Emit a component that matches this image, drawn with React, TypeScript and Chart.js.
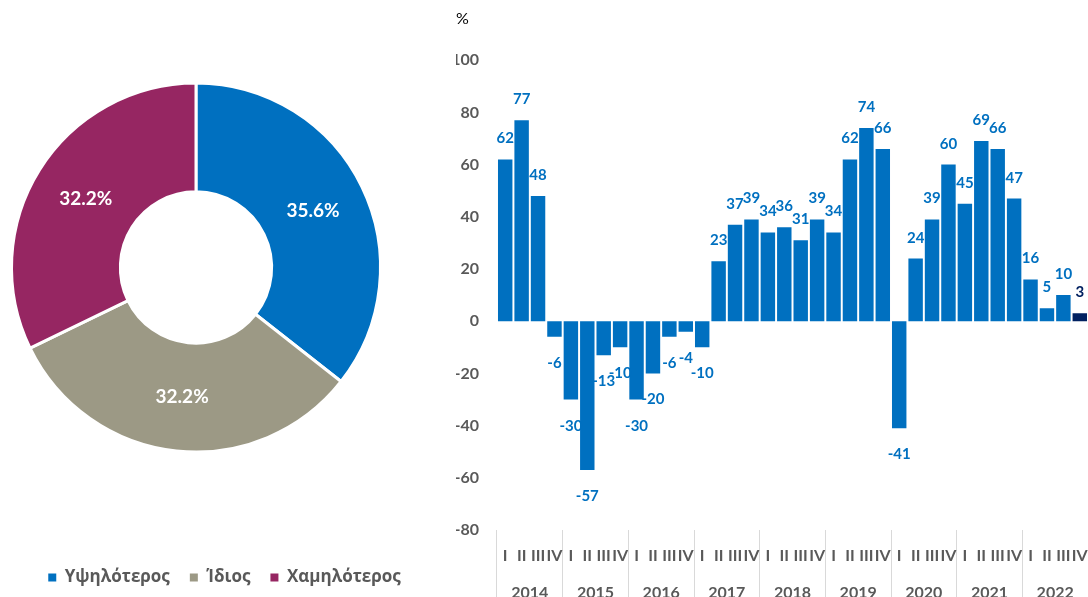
import React, { useEffect, useRef } from 'react';
import { Chart, registerables } from 'chart.js';

Chart.register(...registerables);

// ---- Donut data ----
const sliceLabels = ['Υψηλότερος', 'Ίδιος', 'Χαμηλότερος'];
const sliceValues = [35.6, 32.2, 32.2];
const sliceColors = ['#0070C0', '#9C9985', '#962662'];

// ---- Bar data ----
const years = ['2014', '2015', '2016', '2017', '2018', '2019', '2020', '2021', '2022'];
const quarters = ['I', 'II', 'III', 'IV'];
const balanceValues = [
  62, 77, 48, -6,
  -30, -57, -13, -10,
  -30, -20, -6, -4,
  -10, 23, 37, 39,
  34, 36, 31, 39,
  34, 62, 74, 66,
  -41, 24, 39, 60,
  45, 69, 66, 47,
  16, 5, 10, 3,
];
const yMin = -80;
const yMax = 100;
const yStep = 20;
const unitLabel = '%';

const BLUE = '#0070C0';
const NAVY = '#002060';
const GREY_TEXT = '#595959';
const SEP = '#D9D9D9';
const FONT = "Lato, 'Open Sans', 'Noto Sans', sans-serif";
const GREEK_FONT = "'Open Sans', 'Noto Sans', sans-serif";

const quarterLabels = years.flatMap(() => quarters);

const donutLabelPlugin = {
  id: 'donutLabels',
  afterDatasetsDraw(chart: any) {
    const ctx = chart.ctx;
    const meta = chart.getDatasetMeta(0);
    ctx.save();
    ctx.font = `bold 19px ${FONT}`;
    ctx.fillStyle = '#FFFFFF';
    ctx.textAlign = 'center';
    ctx.textBaseline = 'middle';
    meta.data.forEach((arc: any, i: number) => {
      const p = arc.tooltipPosition(false);
      ctx.fillText(sliceValues[i].toFixed(1) + '%', p.x, p.y);
    });
    ctx.restore();
  },
};

const barLabelPlugin = {
  id: 'barLabels',
  afterDatasetsDraw(chart: any) {
    const ctx = chart.ctx;
    const meta = chart.getDatasetMeta(0);
    ctx.save();
    ctx.font = `bold 15px ${FONT}`;
    ctx.textAlign = 'center';
    ctx.textBaseline = 'alphabetic';
    meta.data.forEach((bar: any, i: number) => {
      const v = balanceValues[i];
      ctx.fillStyle = i === balanceValues.length - 1 ? NAVY : BLUE;
      ctx.fillText(String(v), bar.x, v >= 0 ? bar.y - 16 : bar.y + 31);
    });
    ctx.restore();
  },
};

export default function App() {
  const donutRef = useRef<HTMLCanvasElement>(null);
  const barRef = useRef<HTMLCanvasElement>(null);

  useEffect(() => {
    Chart.defaults.font.family = FONT;
    const baseGen = (Chart as any).overrides.doughnut.plugins.legend.labels.generateLabels;

    const donut = new Chart(donutRef.current!, {
      type: 'doughnut',
      data: {
        labels: sliceLabels,
        datasets: [
          {
            data: sliceValues,
            backgroundColor: sliceColors,
            borderColor: '#FFFFFF',
            borderWidth: 3,
          },
        ],
      },
      options: {
        responsive: false,
        animation: false,
        cutout: '41%',
        layout: { padding: { left: 10, right: 1, top: 0, bottom: 1 } },
        plugins: {
          tooltip: { enabled: false },
          title: {
            display: true,
            position: 'right',
            text: ' ',
            font: { size: 10 },
            padding: { top: 22, bottom: 23 },
          },
          legend: {
            display: true,
            position: 'bottom',
            title: { display: true, text: ' ', font: { size: 10 }, padding: 1 },
            labels: {
              boxWidth: 8,
              boxHeight: 8,
              padding: 20,
              color: GREY_TEXT,
              font: { family: GREEK_FONT, size: 17, weight: 'bold' },
              generateLabels: (chart: any) =>
                baseGen(chart).map((l: any) => ({ ...l, lineWidth: 0, strokeStyle: 'rgba(0,0,0,0)' })),
            },
          },
        },
      } as any,
      plugins: [donutLabelPlugin],
    });

    const lastIdx = balanceValues.length - 1;
    const bar = new Chart(barRef.current!, {
      type: 'bar',
      data: {
        labels: quarterLabels,
        datasets: [
          {
            data: balanceValues,
            backgroundColor: (c: any) => (c.dataIndex === lastIdx ? NAVY : BLUE),
            borderWidth: 0,
            barPercentage: 0.88,
            categoryPercentage: 1.0,
          },
        ],
      },
      options: {
        responsive: false,
        animation: false,
        layout: { padding: { left: 16, right: 0, top: 0, bottom: 0 } },
        plugins: {
          legend: { display: false },
          tooltip: { enabled: false },
          title: {
            display: true,
            text: unitLabel,
            align: 'start',
            color: '#000000',
            font: { family: FONT, size: 16, weight: 'normal' },
            padding: { top: 9, bottom: 32 },
          },
        },
        scales: {
          y: {
            min: yMin,
            max: yMax,
            ticks: {
              stepSize: yStep,
              color: GREY_TEXT,
              font: { family: FONT, size: 16, weight: 'bold' },
              padding: 18,
            },
            grid: { display: false, drawTicks: false },
            border: { display: false },
            afterFit: (s: any) => {
              s.width = 41;
            },
          },
          x: {
            type: 'category',
            offset: true,
            weight: 0,
            ticks: {
              autoSkip: false,
              maxRotation: 0,
              minRotation: 0,
              color: GREY_TEXT,
              font: { family: FONT, size: 16, weight: 'bold' },
              padding: -24,
            },
            grid: {
              offset: true,
              drawOnChartArea: false,
              tickLength: 40,
              color: (c: any) =>
                c.index === undefined || c.index % quarters.length === 0 ? SEP : 'rgba(0,0,0,0)',
            },
            border: { display: false },
            afterFit: (s: any) => {
              s.height = 40;
            },
          },
          x2: {
            type: 'category',
            axis: 'x',
            position: 'bottom',
            labels: years,
            offset: true,
            weight: 1,
            ticks: {
              autoSkip: false,
              maxRotation: 0,
              minRotation: 0,
              color: GREY_TEXT,
              font: { family: FONT, size: 16, weight: 'bold' },
              padding: -37,
            },
            grid: {
              offset: true,
              drawOnChartArea: false,
              tickLength: 50,
              color: SEP,
            },
            border: { display: false },
            afterFit: (s: any) => {
              s.height = 50;
            },
          },
        },
      } as any,
      plugins: [barLabelPlugin],
    });

    return () => {
      donut.destroy();
      bar.destroy();
    };
  }, []);

  return (
    <div
      style={{
        position: 'fixed',
        left: 0,
        top: 0,
        width: 1088,
        height: 597,
        overflow: 'hidden',
        background: '#FFFFFF',
      }}
    >
      <canvas
        ref={donutRef}
        width={440}
        height={597}
        style={{ position: 'absolute', left: 0, top: 0, display: 'block' }}
      />
      <canvas
        ref={barRef}
        width={648}
        height={620}
        style={{ position: 'absolute', left: 440, top: 0, display: 'block' }}
      />
    </div>
  );
}
